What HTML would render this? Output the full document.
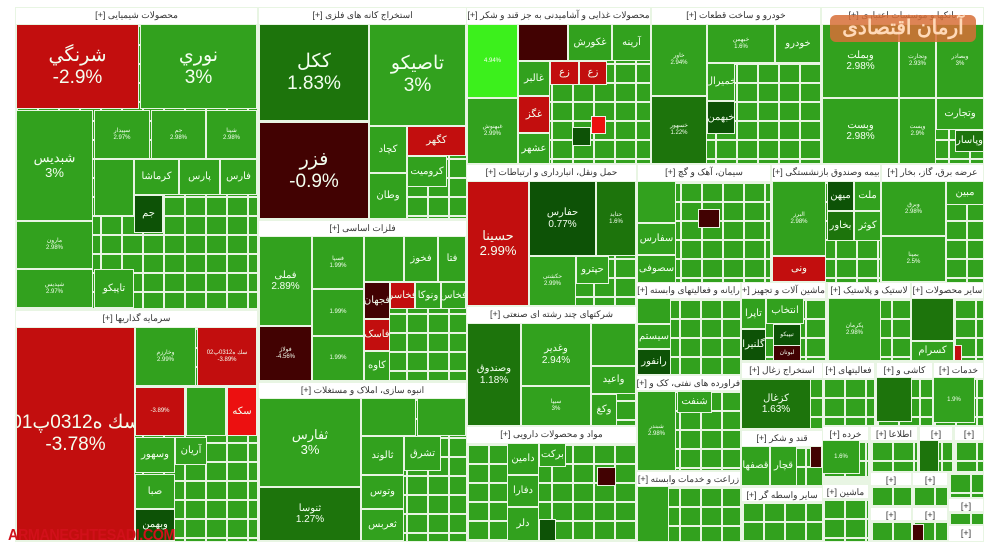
<!DOCTYPE html>
<html><head><meta charset="utf-8"><style>
body{margin:0;width:1000px;height:553px;background:#fff;position:relative;overflow:hidden;font-family:"Liberation Sans","Noto Sans CJK SC",sans-serif}
.b{position:absolute;background-color:#32a11e;background-image:linear-gradient(90deg,#e8f5e3 2px,transparent 2px),linear-gradient(#e8f5e3 2px,transparent 2px);background-size:21px 19px}
.h{position:absolute;background:#fff;color:#333;font-size:9px;text-align:center;line-height:15px;white-space:nowrap;overflow:hidden;direction:rtl}
.t{position:absolute;background:#32a11e;color:#f4fff0;text-align:center;display:flex;flex-direction:column;align-items:center;justify-content:center;font-size:10px;line-height:1.15;overflow:hidden;white-space:nowrap;box-shadow:0 0 0 1px #e8f5e3}
.g{background:#32a11e}.dg{background:#1d740c}.vd{background:#0d5206}.r{background:#c20e0e}.br{background:#ec1010}.m{background:#420202}.l{background:#3cf01c}
.L{font-size:19px}.M{font-size:13px}.S{font-size:6px}
</style></head><body>
<div style="position:absolute;left:15px;top:7px;width:969px;height:535px;background:#e8f5e3"></div>
<!-- chemical -->
<div class="h" style="left:16px;top:8px;width:241px;height:16px">محصولات شیمیایی [+]</div>
<div class="b" style="left:16px;top:25px;width:241px;height:283px"></div>
<div class="t r" style="left:17px;top:25px;width:121px;height:83px"><span class="L">شرنگي</span><span class="L">-2.9%</span></div>
<div class="t" style="left:141px;top:25px;width:115px;height:83px"><span class="L">نوري</span><span class="L">3%</span></div>
<div class="t" style="left:17px;top:111px;width:75px;height:109px"><span class="M">شبدیس</span><span class="M">3%</span></div>
<div class="t S" style="left:95px;top:111px;width:54px;height:47px">سپیدار<br>2.97%</div>
<div class="t S" style="left:152px;top:111px;width:53px;height:47px">جم<br>2.98%</div>
<div class="t S" style="left:207px;top:111px;width:49px;height:47px">شپنا<br>2.98%</div>
<div class="t" style="left:135px;top:160px;width:43px;height:34px">کرماشا</div>
<div class="t" style="left:180px;top:160px;width:39px;height:34px">پارس</div>
<div class="t" style="left:221px;top:160px;width:35px;height:34px">فارس</div>
<div class="t" style="left:95px;top:160px;width:38px;height:55px"></div>
<div class="t vd" style="left:135px;top:196px;width:27px;height:36px">جم</div>
<div class="t S" style="left:17px;top:222px;width:75px;height:46px">مارون<br>2.98%</div>
<div class="t S" style="left:17px;top:270px;width:75px;height:37px">شپدیس<br>2.97%</div>
<div class="t" style="left:95px;top:270px;width:38px;height:37px">تاپیکو</div>
<!-- investment -->
<div class="h" style="left:16px;top:311px;width:241px;height:16px">سرمایه گذاریها [+]</div>
<div class="b" style="left:16px;top:328px;width:241px;height:213px"></div>
<div class="t r" style="left:17px;top:328px;width:117px;height:212px"><span class="L">سك ه0312پ01</span><span class="L">-3.78%</span></div>
<div class="t S" style="left:136px;top:328px;width:59px;height:57px">وخارزم<br>2.99%</div>
<div class="t r S" style="left:198px;top:328px;width:58px;height:57px">سك ه0312پ02<br>-3.89%</div>
<div class="t r S" style="left:136px;top:388px;width:48px;height:47px">-3.89%</div>
<div class="t" style="left:187px;top:388px;width:38px;height:47px"></div>
<div class="t br" style="left:228px;top:388px;width:28px;height:47px">سکه</div>
<div class="t" style="left:136px;top:438px;width:38px;height:34px">وسهور</div>
<div class="t" style="left:136px;top:475px;width:38px;height:33px">صبا</div>
<div class="t vd" style="left:136px;top:510px;width:38px;height:30px">وبهمن</div>
<div class="t" style="left:176px;top:438px;width:30px;height:26px">آریان</div>
<!-- mining -->
<div class="h" style="left:259px;top:8px;width:207px;height:16px">استخراج کانه های فلزی [+]</div>
<div class="b" style="left:259px;top:25px;width:207px;height:193px"></div>
<div class="t dg" style="left:260px;top:25px;width:108px;height:95px"><span class="L">ککل</span><span class="L">1.83%</span></div>
<div class="t" style="left:370px;top:25px;width:95px;height:100px"><span class="L">تاصیکو</span><span class="L">3%</span></div>
<div class="t m" style="left:260px;top:123px;width:108px;height:95px"><span class="L">فزر</span><span class="L">-0.9%</span></div>
<div class="t r" style="left:408px;top:127px;width:57px;height:28px">کگهر</div>
<div class="t" style="left:370px;top:127px;width:36px;height:45px">کچاد</div>
<div class="t" style="left:370px;top:174px;width:36px;height:44px">وطان</div>
<div class="t" style="left:408px;top:157px;width:38px;height:29px">کرومیت</div>
<!-- basic metals -->
<div class="h" style="left:259px;top:221px;width:207px;height:15px">فلزات اساسی [+]</div>
<div class="b" style="left:259px;top:237px;width:207px;height:143px"></div>
<div class="t" style="left:260px;top:237px;width:51px;height:88px">فملی<br>2.89%</div>
<div class="t m S" style="left:260px;top:327px;width:51px;height:53px">فولاژ<br>-4.56%</div>
<div class="t S" style="left:313px;top:237px;width:50px;height:51px">فسپا<br>1.99%</div>
<div class="t S" style="left:313px;top:290px;width:50px;height:45px">1.99%</div>
<div class="t S" style="left:313px;top:337px;width:50px;height:43px">1.99%</div>
<div class="t" style="left:365px;top:237px;width:38px;height:44px"></div>
<div class="t" style="left:405px;top:237px;width:32px;height:44px">فخوز</div>
<div class="t" style="left:439px;top:237px;width:26px;height:44px">فتا</div>
<div class="t m" style="left:365px;top:283px;width:24px;height:35px">فجهان</div>
<div class="t r" style="left:391px;top:283px;width:23px;height:25px">فخاسر</div>
<div class="t" style="left:416px;top:283px;width:24px;height:25px">ونوکا</div>
<div class="t" style="left:442px;top:283px;width:23px;height:25px">فخاس</div>
<div class="t r" style="left:365px;top:320px;width:24px;height:30px">فاسک</div>
<div class="t" style="left:365px;top:352px;width:24px;height:28px">کاوه</div>
<!-- building -->
<div class="h" style="left:259px;top:383px;width:207px;height:15px">انبوه سازی، املاک و مستغلات [+]</div>
<div class="b" style="left:259px;top:399px;width:207px;height:142px"></div>
<div class="t" style="left:260px;top:399px;width:100px;height:87px"><span class="M">ثفارس</span><span class="M">3%</span></div>
<div class="t dg" style="left:260px;top:488px;width:100px;height:52px">ثنوسا<br>1.27%</div>
<div class="t" style="left:362px;top:399px;width:53px;height:36px"></div>
<div class="t" style="left:418px;top:399px;width:47px;height:36px"></div>
<div class="t" style="left:362px;top:437px;width:41px;height:37px">ثالوند</div>
<div class="t" style="left:405px;top:437px;width:35px;height:33px">تشرق</div>
<div class="t" style="left:362px;top:476px;width:41px;height:32px">وتوس</div>
<div class="t" style="left:362px;top:510px;width:41px;height:30px">ثعربس</div>
<!-- food -->
<div class="h" style="left:467px;top:8px;width:183px;height:16px">محصولات غذایی و آشامیدنی به جز قند و شکر [+]</div>
<div class="b" style="left:467px;top:25px;width:183px;height:138px"></div>
<div class="t l S" style="left:468px;top:25px;width:49px;height:72px">4.94%</div>
<div class="t S" style="left:468px;top:99px;width:49px;height:64px">غبهنوش<br>2.99%</div>
<div class="t m" style="left:519px;top:25px;width:48px;height:35px"></div>
<div class="t" style="left:569px;top:25px;width:42px;height:35px">غکورش</div>
<div class="t" style="left:613px;top:25px;width:37px;height:35px">آرینه</div>
<div class="t" style="left:519px;top:62px;width:30px;height:33px">غالبر</div>
<div class="t r" style="left:551px;top:62px;width:27px;height:22px">زع</div>
<div class="t r" style="left:580px;top:62px;width:26px;height:22px">زع</div>
<div class="t r" style="left:519px;top:97px;width:30px;height:35px">غگز</div>
<div class="t" style="left:519px;top:134px;width:30px;height:29px">عشهر</div>
<div class="t br" style="left:592px;top:117px;width:13px;height:16px"></div>
<div class="t vd" style="left:573px;top:128px;width:17px;height:17px"></div>
<!-- transport -->
<div class="h" style="left:467px;top:165px;width:169px;height:16px">حمل ونقل، انبارداری و ارتباطات [+]</div>
<div class="b" style="left:467px;top:182px;width:169px;height:123px"></div>
<div class="t r" style="left:468px;top:182px;width:60px;height:123px"><span class="M">حسینا</span><span class="M">2.99%</span></div>
<div class="t vd" style="left:530px;top:182px;width:65px;height:73px">حفارس<br>0.77%</div>
<div class="t dg S" style="left:597px;top:182px;width:38px;height:73px">حتاید<br>1.6%</div>
<div class="t S" style="left:530px;top:257px;width:45px;height:48px">حکشتی<br>2.99%</div>
<div class="t" style="left:577px;top:257px;width:31px;height:26px">حپترو</div>
<!-- multi -->
<div class="h" style="left:467px;top:307px;width:169px;height:16px">شرکتهای چند رشته ای صنعتی [+]</div>
<div class="b" style="left:467px;top:324px;width:169px;height:101px"></div>
<div class="t dg" style="left:468px;top:324px;width:52px;height:101px">وصندوق<br>1.18%</div>
<div class="t" style="left:522px;top:324px;width:68px;height:61px">وغدیر<br>2.94%</div>
<div class="t" style="left:592px;top:324px;width:43px;height:41px"></div>
<div class="t" style="left:592px;top:367px;width:43px;height:26px">واعید</div>
<div class="t S" style="left:522px;top:387px;width:68px;height:38px">سیپا<br>3%</div>
<div class="t" style="left:592px;top:395px;width:24px;height:30px">وکغ</div>
<!-- pharma -->
<div class="h" style="left:467px;top:427px;width:169px;height:16px">مواد و محصولات دارویی [+]</div>
<div class="b" style="left:467px;top:444px;width:169px;height:97px"></div>
<div class="t" style="left:508px;top:444px;width:30px;height:30px">دامین</div>
<div class="t" style="left:540px;top:444px;width:25px;height:22px">برکت</div>
<div class="t" style="left:508px;top:476px;width:30px;height:30px">دفارا</div>
<div class="t" style="left:508px;top:508px;width:30px;height:32px">دلر</div>
<div class="t m" style="left:598px;top:468px;width:17px;height:17px"></div>
<div class="t vd" style="left:540px;top:520px;width:15px;height:20px"></div>
<!-- auto -->
<div class="h" style="left:652px;top:8px;width:168px;height:16px">خودرو و ساخت قطعات [+]</div>
<div class="b" style="left:652px;top:25px;width:168px;height:138px"></div>
<div class="t S" style="left:652px;top:25px;width:54px;height:70px">خاور<br>2.94%</div>
<div class="t dg S" style="left:652px;top:97px;width:54px;height:66px">خسهور<br>1.22%</div>
<div class="t S" style="left:708px;top:25px;width:66px;height:37px">خبهمن<br>1.6%</div>
<div class="t" style="left:776px;top:25px;width:44px;height:37px">خودرو</div>
<div class="t" style="left:708px;top:64px;width:26px;height:36px">خمیرال</div>
<div class="t vd" style="left:708px;top:102px;width:26px;height:31px">خبهمن</div>
<!-- banks -->
<div class="h" style="left:822px;top:8px;width:161px;height:16px">بانکها و موسسات اعتباری [+]</div>
<div class="b" style="left:822px;top:25px;width:161px;height:138px"></div>
<div class="t" style="left:823px;top:25px;width:75px;height:72px">وبملت<br>2.98%</div>
<div class="t S" style="left:900px;top:25px;width:35px;height:72px">وتجارت<br>2.93%</div>
<div class="t S" style="left:937px;top:25px;width:46px;height:72px">وبصادر<br>3%</div>
<div class="t" style="left:823px;top:99px;width:75px;height:64px">وبست<br>2.98%</div>
<div class="t S" style="left:900px;top:99px;width:35px;height:64px">وپست<br>2.9%</div>
<div class="t" style="left:937px;top:99px;width:46px;height:30px">وتجارت</div>
<div class="t dg" style="left:956px;top:131px;width:27px;height:20px">وپاسار</div>
<div style="position:absolute;left:830px;top:15px;width:146px;height:27px;border-radius:6px;background:rgba(215,110,55,.85);color:#ffd9b8;font-size:20px;font-weight:bold;text-align:center;line-height:27px;direction:rtl">آرمان اقتصادی</div>
<!-- cement -->
<div class="h" style="left:638px;top:165px;width:132px;height:16px">سیمان، آهک و گچ [+]</div>
<div class="b" style="left:638px;top:182px;width:132px;height:100px"></div>
<div class="t" style="left:638px;top:182px;width:37px;height:40px"></div>
<div class="t" style="left:638px;top:224px;width:37px;height:30px">سفارس</div>
<div class="t" style="left:638px;top:256px;width:37px;height:26px">سصوفی</div>
<div class="t m" style="left:699px;top:210px;width:20px;height:17px"></div>
<!-- insurance -->
<div class="h" style="left:772px;top:165px;width:108px;height:16px">بیمه وصندوق بازنشستگی [+]</div>
<div class="b" style="left:772px;top:182px;width:108px;height:100px"></div>
<div class="t S" style="left:773px;top:182px;width:52px;height:73px">البرز<br>2.98%</div>
<div class="t r" style="left:773px;top:257px;width:52px;height:24px">ونی</div>
<div class="t vd" style="left:828px;top:182px;width:25px;height:28px">میهن</div>
<div class="t" style="left:855px;top:182px;width:25px;height:28px">ملت</div>
<div class="t dg" style="left:828px;top:212px;width:25px;height:28px">بخاور</div>
<div class="t" style="left:855px;top:212px;width:25px;height:28px">کوثر</div>
<!-- power -->
<div class="h" style="left:882px;top:165px;width:101px;height:16px">عرضه برق، گاز، بخار [+]</div>
<div class="b" style="left:882px;top:182px;width:101px;height:100px"></div>
<div class="t S" style="left:882px;top:182px;width:63px;height:53px">وبرق<br>2.98%</div>
<div class="t S" style="left:882px;top:237px;width:63px;height:44px">بمپنا<br>2.5%</div>
<div class="t" style="left:947px;top:182px;width:36px;height:22px">مبین</div>
<!-- row3 -->
<div class="h" style="left:637px;top:283px;width:103px;height:15px">رایانه و فعالیتهای وابسته [+]</div>
<div class="b" style="left:637px;top:299px;width:103px;height:75px"></div>
<div class="t vd" style="left:638px;top:350px;width:32px;height:24px">رانفور</div>
<div class="t" style="left:638px;top:299px;width:32px;height:24px"></div>
<div class="t" style="left:638px;top:325px;width:32px;height:23px">سیستم</div>
<div class="h" style="left:742px;top:283px;width:83px;height:15px">ماشین آلات و تجهیز [+]</div>
<div class="b" style="left:742px;top:299px;width:83px;height:61px"></div>
<div class="t vd" style="left:742px;top:330px;width:23px;height:30px">گلنیرا</div>
<div class="t" style="left:742px;top:299px;width:23px;height:29px">تاپرا</div>
<div class="t" style="left:767px;top:299px;width:36px;height:24px">انتخاب</div>
<div class="t vd S" style="left:774px;top:325px;width:26px;height:20px">تیپیکو</div>
<div class="t m S" style="left:774px;top:346px;width:26px;height:14px">لبوتان</div>
<div class="h" style="left:828px;top:283px;width:82px;height:15px">لاستیک و پلاستیک [+]</div>
<div class="b" style="left:828px;top:299px;width:82px;height:61px"></div>
<div class="t S" style="left:829px;top:299px;width:51px;height:61px">پکرمان<br>2.98%</div>
<div class="h" style="left:912px;top:283px;width:71px;height:15px">سایر محصولات [+]</div>
<div class="b" style="left:912px;top:299px;width:71px;height:61px"></div>
<div class="t dg" style="left:912px;top:299px;width:41px;height:41px"></div>
<div class="t" style="left:912px;top:342px;width:41px;height:18px">کسرام</div>
<div class="t r" style="left:955px;top:346px;width:6px;height:14px"></div>
<div class="h" style="left:742px;top:363px;width:80px;height:15px">استخراج زغال [+]</div>
<div class="b" style="left:742px;top:378px;width:80px;height:50px"></div>
<div class="t dg" style="left:742px;top:380px;width:68px;height:48px">کزغال<br>1.63%</div>
<div class="h" style="left:823px;top:363px;width:51px;height:15px">فعالیتهای [+]</div>
<div class="b" style="left:823px;top:378px;width:51px;height:47px"></div>
<div class="h" style="left:877px;top:363px;width:55px;height:15px">کاشی و [+]</div>
<div class="b" style="left:877px;top:378px;width:55px;height:47px"></div>
<div class="t dg" style="left:877px;top:378px;width:34px;height:43px"></div>
<div class="h" style="left:934px;top:363px;width:49px;height:15px">خدمات [+]</div>
<div class="b" style="left:934px;top:378px;width:49px;height:47px"></div>
<div class="t S" style="left:934px;top:378px;width:40px;height:44px">1.9%</div>
<div class="h" style="left:637px;top:376px;width:103px;height:14px">فراورده های نفتی، کک و [+]</div>
<div class="b" style="left:637px;top:391px;width:103px;height:79px"></div>
<div class="t S" style="left:638px;top:392px;width:37px;height:78px">شبندر<br>2.98%</div>
<div class="t" style="left:678px;top:392px;width:33px;height:20px">شنفت</div>
<div class="h" style="left:637px;top:472px;width:103px;height:14px">زراعت و خدمات وابسته [+]</div>
<div class="b" style="left:637px;top:487px;width:103px;height:54px"></div>
<div class="t" style="left:638px;top:487px;width:30px;height:54px"></div>
<div class="h" style="left:742px;top:431px;width:80px;height:15px">قند و شکر [+]</div>
<div class="b" style="left:742px;top:447px;width:80px;height:39px"></div>
<div class="t" style="left:742px;top:447px;width:27px;height:38px">قصفها</div>
<div class="t" style="left:771px;top:447px;width:25px;height:38px">قچار</div>
<div class="t m" style="left:811px;top:447px;width:10px;height:20px"></div>
<div class="h" style="left:742px;top:488px;width:80px;height:13px">سایر واسطه گر [+]</div>
<div class="b" style="left:742px;top:502px;width:80px;height:39px"></div>
<div class="h" style="left:823px;top:427px;width:45px;height:13px">خرده [+]</div>
<div class="b" style="left:823px;top:441px;width:45px;height:35px"></div>
<div class="t S" style="left:823px;top:441px;width:36px;height:32px">1.6%</div>
<div class="h" style="left:871px;top:427px;width:46px;height:13px">اطلاعا [+]</div>
<div class="b" style="left:871px;top:441px;width:46px;height:30px"></div>
<div class="h" style="left:920px;top:427px;width:32px;height:13px">[+]</div>
<div class="b" style="left:920px;top:441px;width:32px;height:30px"></div>
<div class="t dg" style="left:920px;top:441px;width:18px;height:30px"></div>
<div class="h" style="left:955px;top:427px;width:28px;height:13px">[+]</div>
<div class="b" style="left:955px;top:441px;width:28px;height:30px"></div>
<div class="h" style="left:823px;top:485px;width:45px;height:13px">ماشین [+]</div>
<div class="b" style="left:823px;top:499px;width:45px;height:42px"></div>
<div class="h" style="left:871px;top:473px;width:40px;height:12px">[+]</div>
<div class="b" style="left:871px;top:486px;width:40px;height:20px"></div>
<div class="h" style="left:913px;top:473px;width:34px;height:12px">[+]</div>
<div class="b" style="left:913px;top:486px;width:34px;height:20px"></div>
<div class="h" style="left:871px;top:508px;width:40px;height:12px">[+]</div>
<div class="b" style="left:871px;top:521px;width:40px;height:20px"></div>
<div class="h" style="left:913px;top:508px;width:34px;height:12px">[+]</div>
<div class="b" style="left:913px;top:521px;width:34px;height:20px"></div>
<div class="t m" style="left:913px;top:525px;width:10px;height:15px"></div>
<div class="b" style="left:949px;top:473px;width:34px;height:24px"></div>
<div class="h" style="left:949px;top:499px;width:34px;height:12px">[+]</div>
<div class="b" style="left:949px;top:512px;width:34px;height:12px"></div>
<div class="h" style="left:949px;top:526px;width:34px;height:15px">[+]</div>
<div style="position:absolute;left:8px;top:527px;color:#d1101a;font-weight:bold;font-size:16px;letter-spacing:-0.5px;transform:scaleX(0.9);transform-origin:left top">ARMANEGHTESADI.COM</div>
</body></html>
